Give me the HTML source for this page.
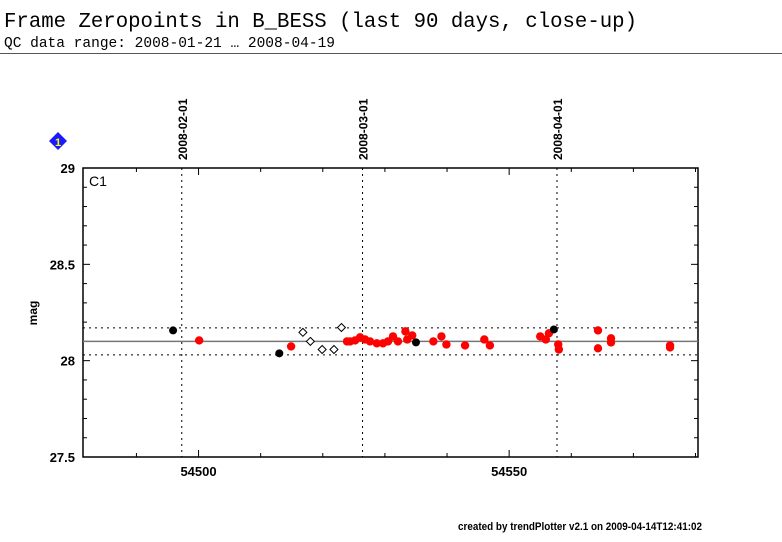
<!DOCTYPE html>
<html><head><meta charset="utf-8"><style>
body{margin:0;background:#fff;width:782px;height:542px;overflow:hidden}
svg{display:block}
text{font-family:"Liberation Sans",sans-serif}
.mono{font-family:"Liberation Mono",monospace}
</style></head><body>
<svg id="chart" width="782" height="542">
<text class="mono" x="4" y="27" font-size="21" textLength="633" lengthAdjust="spacingAndGlyphs">Frame Zeropoints in B_BESS (last 90 days, close-up)</text>
<text class="mono" x="4" y="47" font-size="15" textLength="331" lengthAdjust="spacingAndGlyphs">QC data range: 2008-01-21 … 2008-04-19</text>
<line x1="0" y1="53.5" x2="782" y2="53.5" stroke="#555" stroke-width="1"/>
<g><path d="M58,132 L67,141 L58,150 L49,141 Z" fill="#1a1aff"/><text x="58" y="146" font-size="11" font-weight="bold" fill="#ff0" text-anchor="middle">1</text></g>
<text x="0" y="0" transform="translate(37,313) rotate(-90)" font-size="12" font-weight="bold" text-anchor="middle">mag</text>
<text x="458" y="530" font-size="11" font-weight="bold" textLength="244" lengthAdjust="spacingAndGlyphs">created by trendPlotter v2.1 on 2009-04-14T12:41:02</text>
<g id="plot"></g>
</svg>
<script>
const xMin=54481.4, xMax=54580.4, yMin=27.5, yMax=29;
const xTicks=[54500,54550];
const yTicks=[27.5,28,28.5,29];
const dateLabels=["2008-02-01","2008-03-01","2008-04-01"];
const dateMjd=[54497.3,54526.4,54557.7];
const refLine=28.1, refLow=28.03, refHigh=28.17;
const blackMjd=[54495.9,54513.0,54535.0,54557.2];
const blackMag=[28.157,28.038,28.095,28.162];
const openMjd=[54516.8,54518.0,54519.9,54521.8,54523.0];
const openMag=[28.147,28.100,28.058,28.058,28.172];
const redMjd=[54500.1,54514.9,54523.9,54524.4,54525.2,54526.0,54526.8,54527.6,54528.7,54529.7,54530.5,54531.3,54532.1,54533.3,54533.6,54534.4,54537.8,54539.1,54539.9,54542.9,54546.0,54546.9,54555.0,54555.9,54556.4,54557.9,54558.0,54564.3,54564.3,54566.4,54566.4,54575.9,54575.9];
const redMag=[28.105,28.074,28.100,28.100,28.105,28.121,28.110,28.100,28.090,28.090,28.100,28.126,28.100,28.152,28.110,28.131,28.100,28.126,28.084,28.079,28.110,28.079,28.126,28.110,28.142,28.084,28.058,28.157,28.064,28.116,28.095,28.079,28.069];
const L=83,R=698,T=168,B=457;
const sx=v=>L+(v-xMin)/(xMax-xMin)*(R-L);
const sy=v=>B-(v-yMin)/(yMax-yMin)*(B-T);
const NS="http://www.w3.org/2000/svg";
const g=document.getElementById('plot');
function el(t,a){const e=document.createElementNS(NS,t);for(const k in a)e.setAttribute(k,a[k]);g.appendChild(e);return e;}
let e;
e=el('rect',{x:L,y:T,width:R-L,height:B-T,fill:'none',stroke:'#000','stroke-width':1.5});


e=el('text',{x:L+6,y:T+18,'font-size':14});e.textContent='C1';


for(let i=0;i<dateMjd.length;i++){const x=sx(dateMjd[i]);
e=el('line',{x1:x,y1:T,x2:x,y2:B,stroke:'#000','stroke-dasharray':'2,4','stroke-width':1});


e=el('text',{transform:`translate(${x+5},160) rotate(-90)`,'font-size':12,'font-weight':'bold'});e.textContent=dateLabels[i];

}
for(let v=54490;v<=54580;v+=10){const x=sx(v);const big=v%50===0;
el('line',{x1:x,y1:B,x2:x,y2:B-(big?7:4),stroke:'#000'});el('line',{x1:x,y1:T,x2:x,y2:T+(big?7:4),stroke:'#000'});}
xTicks.forEach(v=>{e=el('text',{x:sx(v),y:B+19,'font-size':13,'font-weight':'bold','text-anchor':'middle'});e.textContent=v;

});
for(let v=27.5;v<=29.001;v+=0.1){const y=sy(v);const big=Math.abs(v*2-Math.round(v*2))<1e-6;
el('line',{x1:L,y1:y,x2:L+(big?7:4),y2:y,stroke:'#000'});el('line',{x1:R,y1:y,x2:R-(big?7:4),y2:y,stroke:'#000'});}
yTicks.forEach(v=>{e=el('text',{x:75,y:sy(v)+5,'font-size':13,'font-weight':'bold','text-anchor':'end'});e.textContent=String(v);

});
[refLow,refHigh].forEach(v=>{e=el('line',{x1:L,y1:sy(v),x2:R,y2:sy(v),stroke:'#000','stroke-dasharray':'2,4'});

});
e=el('line',{x1:L,y1:sy(refLine),x2:R,y2:sy(refLine),stroke:'#777','stroke-width':1.5});


for(let i=0;i<openMjd.length;i++){const x=sx(openMjd[i]),y=sy(openMag[i]);
e=el('path',{d:`M${x},${y-4}L${x+4},${y}L${x},${y+4}L${x-4},${y}Z`,fill:'#fff',stroke:'#000','stroke-width':1});

}
for(let i=0;i<redMjd.length;i++){e=el('circle',{cx:sx(redMjd[i]),cy:sy(redMag[i]),r:4.2,fill:'#f00'});

}
for(let i=0;i<blackMjd.length;i++){e=el('circle',{cx:sx(blackMjd[i]),cy:sy(blackMag[i]),r:4,fill:'#000'});

}
</script>
</body></html>
